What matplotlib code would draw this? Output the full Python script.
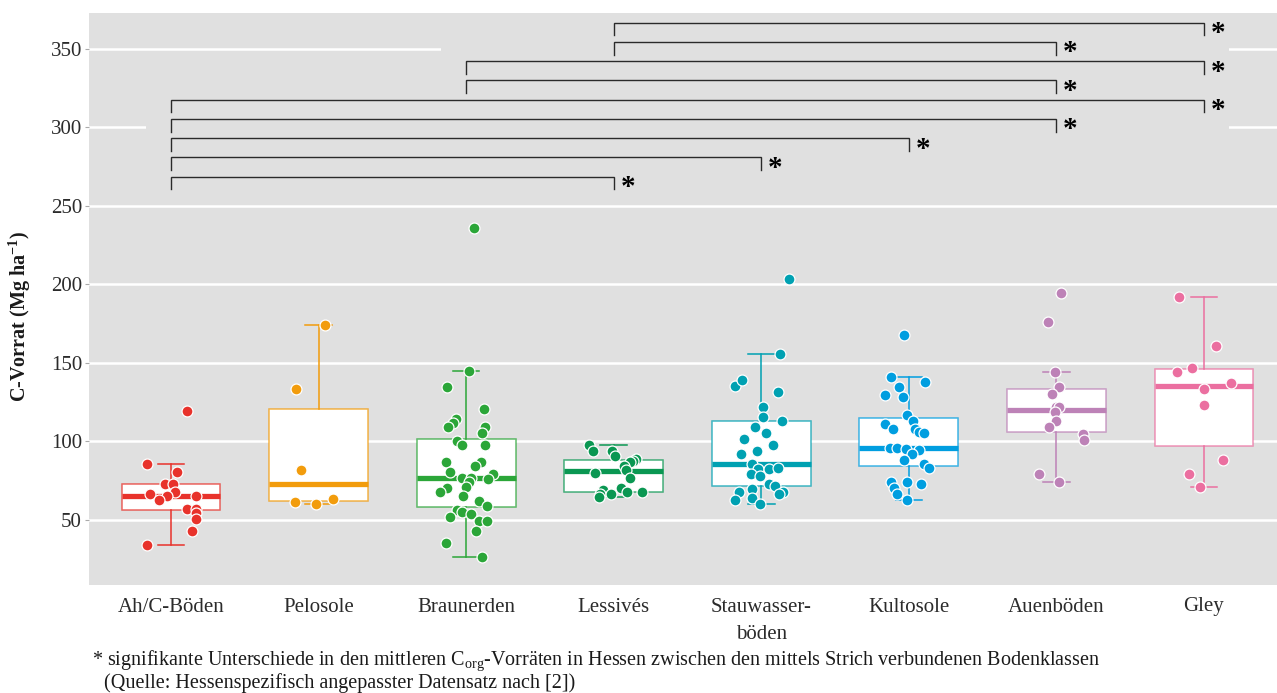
import numpy as np
import matplotlib.pyplot as plt
from matplotlib.colors import to_rgba
from matplotlib.patches import Rectangle

plt.rcParams['font.family'] = 'Liberation Serif'
plt.rcParams['mathtext.fontset'] = 'custom'
plt.rcParams['mathtext.rm'] = 'Liberation Serif'
plt.rcParams['mathtext.it'] = 'Liberation Serif:italic'
plt.rcParams['mathtext.bf'] = 'Liberation Serif:bold'

# soil classes and C stocks (Mg/ha) per site
classes = ['Ah/C-Böden', 'Pelosole', 'Braunerden', 'Lessivés', 'Stauwasser-\nböden',
           'Kultosole', 'Auenböden', 'Gley']
colors = ['#e8322b', '#f29c0c', '#2ba638', '#0a9752', '#00a1b2', '#009ee0', '#bd82b7', '#eb6fa0']

ahc = [119.4, 85.7, 80.6, 72.7, 72.7, 67.6, 66.4, 65.3, 65.3, 62.9, 56.8, 56.8, 54.3, 50.8, 43.0, 34.3]
ahc_jit = [0.11, -0.16, 0.04, -0.04, 0.01, 0.03, -0.14, -0.03, 0.17, -0.08, 0.11, 0.17, 0.17, 0.17, 0.14, -0.16]

pelosole = [174.0, 133.6, 82.0, 61.5, 60.4, 63.6]
pelosole_jit = [0.04, -0.15, -0.12, -0.16, -0.02, 0.10]

braunerden = [236.0, 145.1, 134.9, 120.7, 114.3, 111.6, 109.0, 109.4, 105.2, 100.3, 97.6, 97.8,
              87.2, 87.2, 84.4, 80.4, 79.3, 75.9, 76.8, 76.8, 74.2, 71.2, 70.6, 67.6, 65.1,
              62.3, 58.7, 56.2, 54.9, 53.6, 52.1, 49.6, 49.6, 43.0, 35.4, 26.2]
braunerden_jit = [0.05, 0.02, -0.13, 0.12, -0.07, -0.09, -0.12, 0.13, 0.11, -0.06, -0.03, 0.13,
                  -0.14, 0.10, 0.06, -0.11, 0.18, 0.15, -0.03, 0.03, 0.02, 0.00, -0.13, -0.18, -0.02,
                  0.09, 0.14, -0.06, -0.03, 0.03, -0.11, 0.09, 0.14, 0.07, -0.14, 0.11]

lessives = [97.8, 93.9, 93.9, 90.8, 88.7, 87.6, 86.8, 84.4, 82.0, 80.1, 76.8, 70.4, 68.9,
            66.8, 64.6, 66.4, 67.6, 67.6]
lessives_jit = [-0.17, -0.14, -0.01, 0.01, 0.15, 0.13, 0.11, 0.07, 0.08, -0.13, 0.11, 0.05, -0.07,
                -0.09, -0.10, -0.02, 0.09, 0.19]

stauwasser = [203.7, 155.7, 135.5, 139.2, 131.3, 121.7, 115.6, 113.2, 109.2, 105.6, 101.6, 97.8,
              93.9, 92.2, 85.9, 82.5, 82.3, 83.3, 79.1, 78.2, 72.7, 71.7, 69.9, 68.0, 66.4,
              68.0, 62.5, 63.8, 60.0]
stauwasser_jit = [0.19, 0.13, -0.18, -0.13, 0.11, 0.01, 0.01, 0.14, -0.04, 0.03, -0.12, 0.08,
                  -0.03, -0.14, -0.06, -0.02, 0.05, 0.11, -0.07, -0.01, 0.05, 0.09, -0.06, 0.15, 0.12,
                  -0.15, -0.18, -0.06, -0.01]

kultosole = [167.6, 141.3, 137.7, 134.9, 129.6, 128.6, 116.7, 113.1, 110.9, 107.8, 107.8, 106.2,
             105.2, 96.1, 96.1, 94.9, 94.5, 92.2, 88.2, 85.9, 83.3, 74.0, 74.2, 72.7, 70.6, 66.4, 62.5]
kultosole_jit = [-0.03, -0.12, 0.11, -0.07, -0.16, -0.04, -0.01, 0.03, -0.16, -0.11, 0.04, 0.07,
                 0.10, -0.13, -0.08, -0.02, 0.07, 0.02, -0.03, 0.10, 0.14, -0.12, -0.01, 0.08, -0.10,
                 -0.08, -0.01]

auen = [194.8, 176.1, 144.1, 134.7, 130.1, 121.9, 121.9, 118.6, 113.2, 109.0, 104.8, 101.1, 79.5, 74.2]
auen_jit = [0.03, -0.06, -0.01, 0.02, -0.03, 0.00, 0.02, -0.01, 0.00, -0.05, 0.18, 0.19, -0.12, 0.02]

gley = [192.2, 161.0, 144.1, 146.8, 137.5, 133.2, 123.4, 88.4, 79.3, 71.2]
gley_jit = [-0.17, 0.08, -0.18, -0.08, 0.18, 0.00, 0.00, 0.13, -0.10, -0.03]

groups = [ahc, pelosole, braunerden, lessives, stauwasser, kultosole, auen, gley]
jitters = [ahc_jit, pelosole_jit, braunerden_jit, lessives_jit, stauwasser_jit,
           kultosole_jit, auen_jit, gley_jit]

# pairs with significant differences (index of class)
sig_from = [0, 0, 0, 0, 0, 2, 2, 3, 3]
sig_to = [3, 4, 5, 6, 7, 6, 7, 6, 7]

panel = '#e0e0e0'
W, H = 1277, 693
fig = plt.figure(figsize=(W / 100, H / 100), dpi=100)
ax = fig.add_axes([89 / W, 108 / H, 1 - 89 / W, 572 / H])
ax.set_facecolor(panel)
for s in ax.spines.values():
    s.set_visible(False)

pos = np.arange(len(groups))
bp = ax.boxplot(groups, positions=pos, widths=0.67, showfliers=False, patch_artist=True,
                capwidths=0.18, zorder=2)
for i, c in enumerate(colors):
    bp['boxes'][i].set(facecolor='white', edgecolor=to_rgba(c, 0.75), linewidth=1.1)
    bp['medians'][i].set(color=c, linewidth=3.8, solid_capstyle='butt')
    for k in (2 * i, 2 * i + 1):
        bp['whiskers'][k].set(color=c, linewidth=1.1)
        bp['caps'][k].set(color=c, linewidth=1.1)
    ax.scatter(i + np.array(jitters[i]), groups[i], s=62, color=c, edgecolor='white',
               linewidth=0.9, zorder=3)

# significance brackets, each on a patch of panel colour that blanks the grid behind it
drop = 8.1
for k, (a, b) in enumerate(zip(sig_from, sig_to)):
    y = 268.6 + 12.27 * k
    y0 = max(y - 21, 258)
    ax.add_patch(Rectangle((a - 0.17, y0), b - a + 0.34, y + 9 - y0, facecolor=panel,
                           edgecolor='none', zorder=1))
    ax.plot([a, a, b, b], [y - drop, y, y, y - drop], color='#2a2a2a', linewidth=1.0,
            solid_joinstyle='miter', zorder=4)
    ax.text(b + 0.045, y - 7, '*', fontsize=21, fontweight='bold', ha='left', va='center',
            zorder=5)

ax.set_xlim(-0.556, 7.495)
ax.set_ylim(8.6, 372.9)
ax.set_yticks([50, 100, 150, 200, 250, 300, 350])
ax.set_xticks(pos)
ax.set_xticklabels(classes)
for lab in ax.get_xticklabels():
    lab.set_linespacing(1.6)
ax.yaxis.grid(True, color='white', linewidth=1.8)
ax.set_axisbelow(True)
ax.tick_params(axis='x', length=0, pad=9, labelsize=15, labelcolor='#2b2b2b')
ax.tick_params(axis='y', length=3, color='#aaaaaa', pad=2, labelsize=15, labelcolor='#2b2b2b')

ax.set_ylabel(r'C-Vorrat (Mg ha$^{\mathbf{-1}}$)', fontsize=14.5, fontweight='bold', color='#1a1a1a')
ax.yaxis.set_label_coords(-0.047, 0.47)

fig.text(92 / W, 1 - 661 / H,
         '* signifikante Unterschiede in den mittleren C$_{\\mathrm{org}}$-Vorräten in Hessen '
         'zwischen den mittels Strich verbundenen Bodenklassen',
         fontsize=14.5, va='center', color='#1a1a1a')
fig.text(104 / W, 1 - 683 / H, '(Quelle: Hessenspezifisch angepasster Datensatz nach [2])',
         fontsize=14.5, va='center', color='#1a1a1a')

fig.savefig('out.png', dpi=100, facecolor='white')
